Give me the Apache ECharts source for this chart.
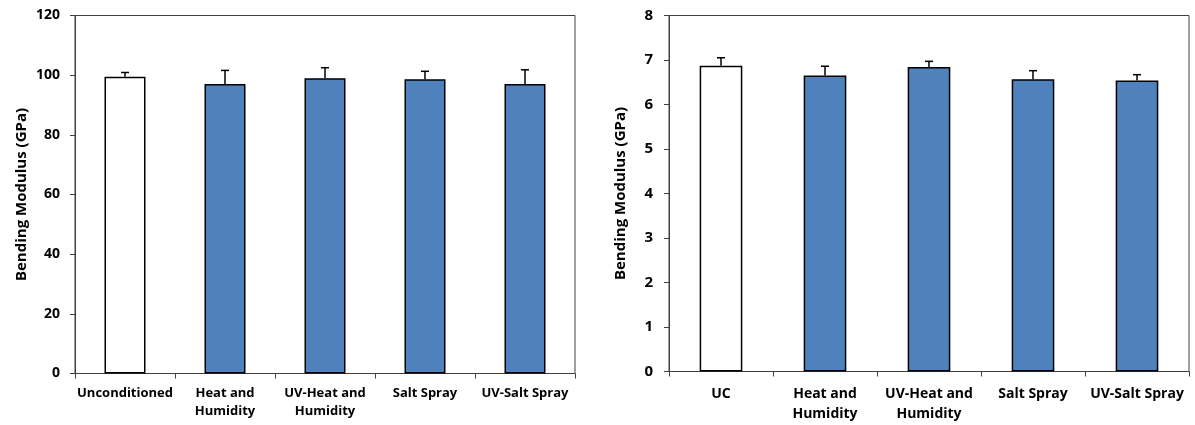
<!DOCTYPE html>
<html>
<head>
<meta charset="utf-8">
<script src="https://cdn.jsdelivr.net/npm/echarts@6/dist/echarts.min.js"></script>
<style>html,body{margin:0;padding:0;background:#fff;}#c{width:1195px;height:425px;}</style>
</head>
<body>
<div id="c"></div>
<script>
var leftCategories = ['Unconditioned', 'Heat and\nHumidity', 'UV-Heat and\nHumidity', 'Salt Spray', 'UV-Salt Spray'];
var leftValues = [99.45, 97.0, 99.0, 98.66, 97.0];
var leftErrors = [1.45, 4.6, 3.5, 2.64, 4.8];
var rightCategories = ['UC', 'Heat and\nHumidity', 'UV-Heat and\nHumidity', 'Salt Spray', 'UV-Salt Spray'];
var rightValues = [6.87, 6.65, 6.84, 6.57, 6.54];
var rightErrors = [0.18, 0.21, 0.13, 0.19, 0.13];
var yName = 'Bending Modulus (GPa)';

var FONT = 'Open Sans';
var BLUE = '#4F81BD';
var AXIS = '#404040';

function barData(vals) {
  return vals.map(function (v, i) {
    return { value: v, itemStyle: { color: i === 0 ? '#ffffff' : BLUE } };
  });
}
function errData(vals, errs) {
  return vals.map(function (v, i) { return [i, v, errs[i]]; });
}
function errRender(params, api) {
  var i = api.value(0), v = api.value(1), e = api.value(2);
  var p0 = api.coord([i, v]);
  var p1 = api.coord([i, v + e]);
  var st = { stroke: '#000', lineWidth: 1.5 };
  return {
    type: 'group',
    children: [
      { type: 'line', shape: { x1: p0[0], y1: p0[1], x2: p1[0], y2: p1[1] }, style: st },
      { type: 'line', shape: { x1: p1[0] - 4, y1: p1[1], x2: p1[0] + 4, y2: p1[1] }, style: st }
    ]
  };
}
function xAxisCfg(idx, cats, fs, lh, margin) {
  return {
    type: 'category', gridIndex: idx, data: cats,
    axisLine: { lineStyle: { color: AXIS, width: 1 } },
    axisTick: { show: true, alignWithLabel: false, length: 5, lineStyle: { color: AXIS } },
    axisLabel: { color: '#000', fontFamily: FONT, fontWeight: 'bold', fontSize: fs, lineHeight: lh, margin: margin, interval: 0 },
    splitLine: { show: false }
  };
}
function yAxisCfg(idx, max, interval, fs, margin, nameGap, nfs) {
  return {
    type: 'value', gridIndex: idx, min: 0, max: max, interval: interval,
    name: yName, nameLocation: 'middle', nameRotate: 90, nameGap: nameGap,
    nameTextStyle: { color: '#000', fontFamily: FONT, fontWeight: 'bold', fontSize: nfs },
    axisLine: { show: true, lineStyle: { color: AXIS, width: 1 } },
    axisTick: { show: true, length: 5, lineStyle: { color: AXIS } },
    axisLabel: { color: '#000', fontFamily: FONT, fontWeight: 'bold', fontSize: fs, margin: margin },
    splitLine: { show: false }
  };
}

var chart = echarts.init(document.getElementById('c'), null, { renderer: 'canvas' });
chart.setOption({
  animation: false,
  backgroundColor: '#ffffff',
  grid: [
    { left: 75, top: 15.5, width: 500, height: 358, show: true, borderColor: AXIS, borderWidth: 1, backgroundColor: 'transparent' },
    { left: 669, top: 15.5, width: 520, height: 356, show: true, borderColor: AXIS, borderWidth: 1, backgroundColor: 'transparent' }
  ],
  xAxis: [
    xAxisCfg(0, leftCategories, 13, 18, 11),
    xAxisCfg(1, rightCategories, 14, 20, 13)
  ],
  yAxis: [
    yAxisCfg(0, 120, 20, 14, 15, 46, 15),
    yAxisCfg(1, 8, 1, 15, 16, 41, 15)
  ],
  series: [
    { type: 'bar', xAxisIndex: 0, yAxisIndex: 0, data: barData(leftValues), barWidth: '41%',
      itemStyle: { borderColor: '#000', borderWidth: 1.5 } },
    { type: 'custom', xAxisIndex: 0, yAxisIndex: 0, data: errData(leftValues, leftErrors), renderItem: errRender, z: 5 },
    { type: 'bar', xAxisIndex: 1, yAxisIndex: 1, data: barData(rightValues), barWidth: '41%',
      itemStyle: { borderColor: '#000', borderWidth: 1.5 } },
    { type: 'custom', xAxisIndex: 1, yAxisIndex: 1, data: errData(rightValues, rightErrors), renderItem: errRender, z: 5 }
  ]
});
</script>
</body>
</html>
